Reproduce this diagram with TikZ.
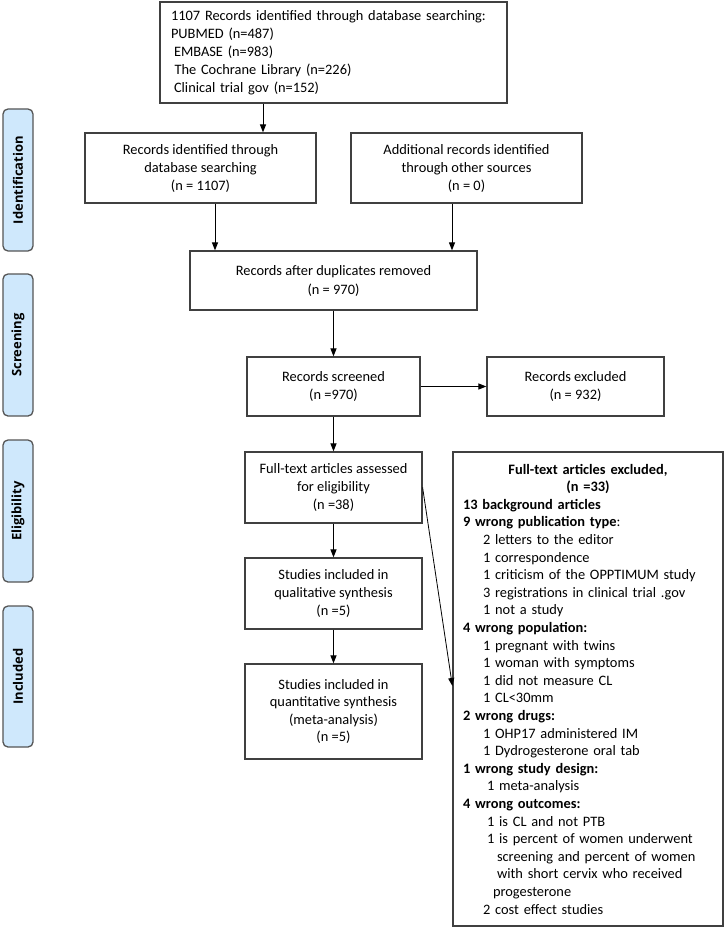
\documentclass[tikz,border=0pt]{standalone}
\usepackage{fontspec}
\setmainfont{Carlito}
\newfontfamily\pillfont{Open Sans}
\usetikzlibrary{arrows.meta}
\definecolor{pillblue}{RGB}{207,232,252}
\definecolor{boxline}{RGB}{64,64,64}
\definecolor{pillline}{RGB}{85,85,85}
\begin{document}
\begin{tikzpicture}[x=1pt,y=-1pt,
  box/.style={draw=boxline,line width=1.2pt,inner sep=0pt,align=center,font=\fontsize{14.4}{17.6}\selectfont},
  pill/.style={draw=pillline,fill=pillblue,line width=1.3pt,rounded corners=5pt,rotate=90,minimum height=30pt,inner sep=0pt,font=\pillfont\bfseries\fontsize{13}{15}\selectfont},
  arr/.style={-{Triangle[length=8pt,width=6pt]},line width=1pt,black}]
\useasboundingbox (0,0) rectangle (726,931);

% phase labels
\node[pill,minimum width=142pt] (pid) at (18,180) {Identification};
\node[pill,minimum width=142pt] (psc) at (18,345) {Screening};
\node[pill,minimum width=142pt] (pel) at (18,511) {Eligibility};
\node[pill,minimum width=141pt] (pin) at (18,676.5) {Included};

% boxes
\node[box,minimum width=347pt,minimum height=101pt,text width=325pt,align=left,font=\fontsize{14.4}{18}\selectfont] (top) at (333.5,52.5)
 {1107 Records identified through database searching:\\
  PUBMED (n=487)\\
  \hspace*{3pt}EMBASE (n=983)\\
  \hspace*{3.5pt}The Cochrane Library (n=226)\\
  \hspace*{3pt}Clinical trial gov (n=152)};
\node[box,minimum width=231pt,minimum height=70pt,font=\fontsize{14.4}{18}\selectfont] (A) at (200.5,168)
 {Records identified through\\database searching\\(n = 1107)};
\node[box,minimum width=231pt,minimum height=70pt,font=\fontsize{14.4}{18}\selectfont] (B) at (466.5,168)
 {Additional records identified\\through other sources\\(n = 0)};
\node[box,minimum width=287pt,minimum height=59pt,font=\fontsize{14.4}{19}\selectfont] (C) at (333.5,280.5)
 {Records after duplicates removed\\(n = 970)};
\node[box,minimum width=173pt,minimum height=59pt,font=\fontsize{14.4}{18.5}\selectfont] (S) at (333.5,386.5)
 {Records screened\\(n =970)};
\node[box,minimum width=177pt,minimum height=59pt,font=\fontsize{14.4}{18.5}\selectfont] (E) at (575.5,386.5)
 {Records excluded\\(n = 932)};
\node[box,minimum width=177pt,minimum height=71pt] (FT) at (333.5,487.5)
 {Full-text articles assessed\\for eligibility\\(n =38)};
\node[box,minimum width=177pt,minimum height=71pt] (S1) at (333.5,593.5)
 {Studies included in\\qualitative synthesis\\(n =5)};
\node[box,minimum width=177pt,minimum height=95pt] (S2) at (333.5,711.5)
 {Studies included in\\quantitative synthesis\\(meta-analysis)\\(n =5)};
\node[box,minimum width=270pt,minimum height=474pt,text width=250pt,align=left] (big) at (588,689)
 {\makebox[250pt][c]{\bfseries Full-text articles excluded,}\\
  \makebox[250pt][c]{\bfseries (n =33)}\\
  \textbf{13 background articles}\\
  \textbf{9 wrong publication type}:\\
  \hspace*{20pt}2 letters to the editor\\
  \hspace*{20pt}1 correspondence\\
  \hspace*{20pt}1 criticism of the OPPTIMUM study\\
  \hspace*{20pt}3 registrations in clinical trial .gov\\
  \hspace*{20pt}1 not a study\\
  \textbf{4 wrong population:}\\
  \hspace*{20pt}1 pregnant with twins\\
  \hspace*{20pt}1 woman with symptoms\\
  \hspace*{20pt}1 did not measure CL\\
  \hspace*{20pt}1 CL<30mm\\
  \textbf{2 wrong drugs:}\\
  \hspace*{20pt}1 OHP17 administered IM\\
  \hspace*{20pt}1 Dydrogesterone oral tab\\
  \textbf{1 wrong study design:}\\
  \hspace*{24pt}1 meta-analysis\\
  \textbf{4 wrong outcomes:}\\
  \hspace*{24pt}1 is CL and not PTB\\
  \hspace*{24pt}1 is percent of women underwent\\
  \hspace*{34pt}screening and percent of women\\
  \hspace*{34pt}with short cervix who received\\
  \hspace*{30pt}progesterone\\
  \hspace*{20pt}2 cost effect studies};

% connectors
\coordinate (xa) at (263,0);
\coordinate (xb) at (215,0);
\coordinate (xc) at (452,0);
\coordinate (yd) at (0,686);
\draw[arr] (xa |- top.south) -- (xa |- A.north);
\draw[arr] (xb |- A.south) -- (xb |- C.north);
\draw[arr] (xc |- B.south) -- (xc |- C.north);
\draw[arr] (C.south) -- (S.north);
\draw[arr] (S.east) -- (E.west);
\draw[arr] (S.south) -- (FT.north);
\draw[arr] (FT.south) -- (S1.north);
\draw[arr] (S1.south) -- (S2.north);
\draw[arr,line width=0.8pt] (FT.east) -- (big.west |- yd);
\end{tikzpicture}
\end{document}
